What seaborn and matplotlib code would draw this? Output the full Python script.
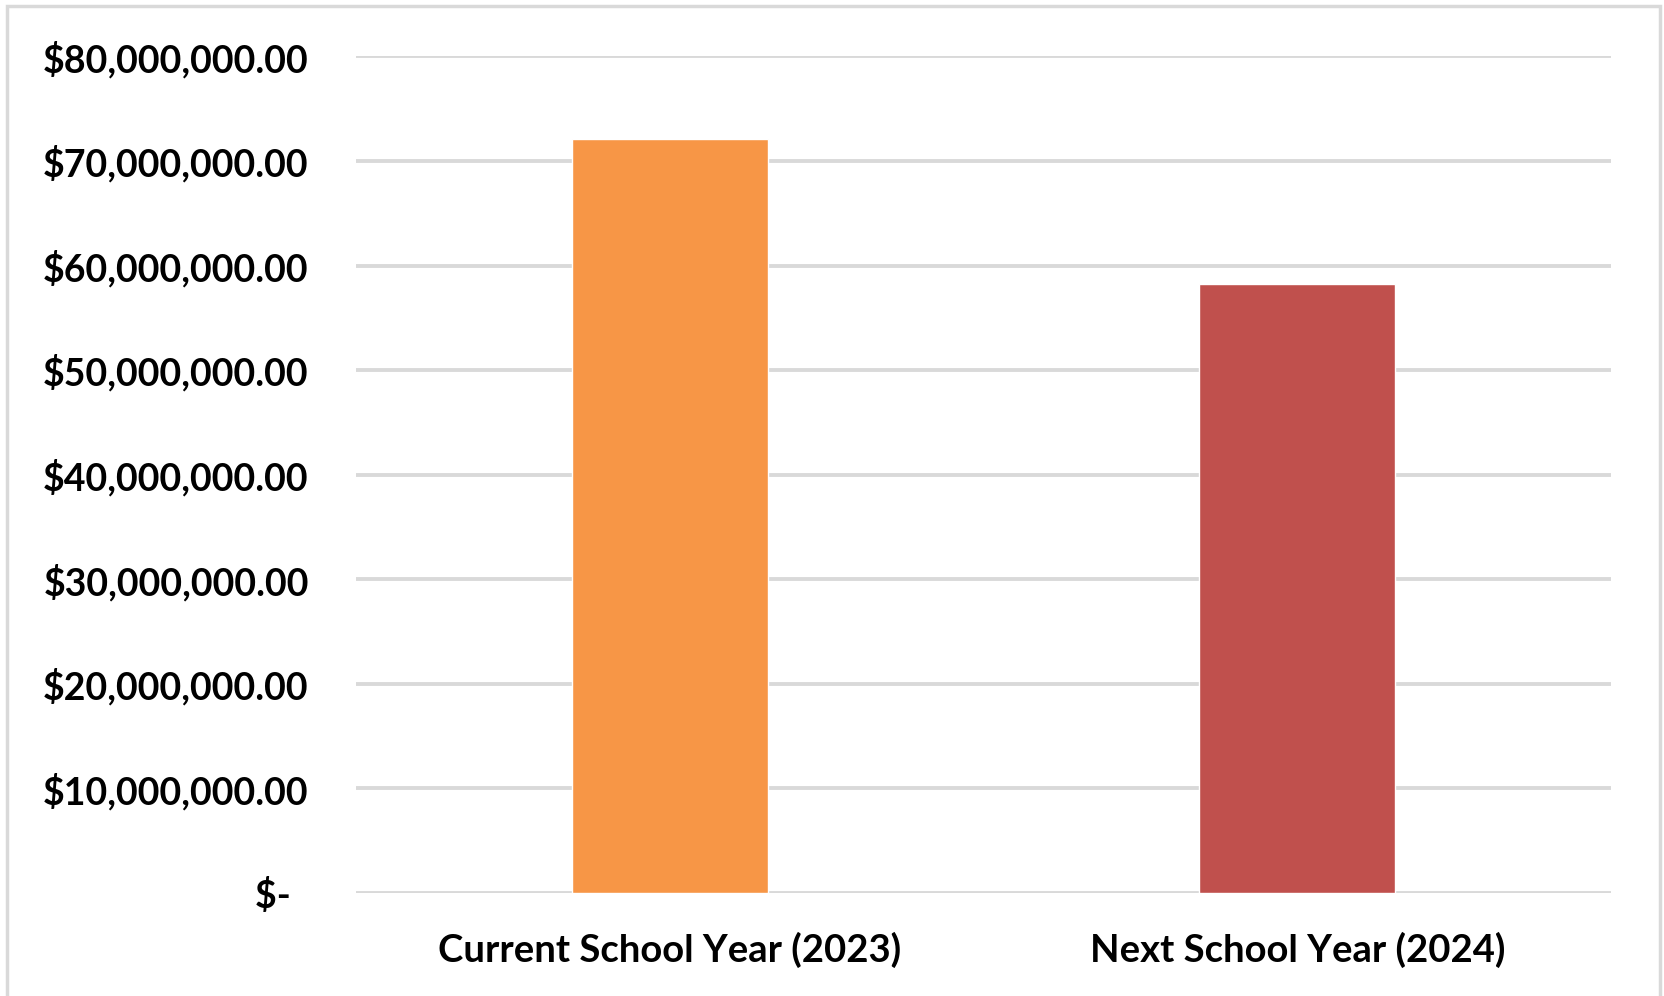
import matplotlib
matplotlib.use("Agg")
import matplotlib.pyplot as plt
from matplotlib.patches import Rectangle
import seaborn as sns

# Budget by school year
categories = ["Current School Year (2023)", "Next School Year (2024)"]
budget = [72_100_000, 58_200_000]
bar_colors = ["#F79646", "#C0504D"]

y_ticks = [0, 10_000_000, 20_000_000, 30_000_000, 40_000_000,
           50_000_000, 60_000_000, 70_000_000, 80_000_000]
y_tick_labels = ["$-  ", "$10,000,000.00", "$20,000,000.00", "$30,000,000.00",
                 "$40,000,000.00", "$50,000,000.00", "$60,000,000.00",
                 "$70,000,000.00", "$80,000,000.00"]

sns.set_theme(style="white")
plt.rcParams["font.family"] = ["Lato", "DejaVu Sans"]

W, H = 1664, 996
fig = plt.figure(figsize=(W / 100, H / 100), dpi=100)
fig.patch.set_facecolor("white")
ax = fig.add_axes([356 / W, 1 - 893 / H, (1611 - 356) / W, (893 - 56.5) / H])

sns.barplot(x=categories, y=budget, hue=categories, palette=bar_colors,
            legend=False, width=0.313, saturation=1, ax=ax, zorder=3)

ax.set_ylim(0, 80_000_000)
ax.set_xlim(-0.5, 1.5)
ax.set_yticks(y_ticks)
ax.set_yticklabels(y_tick_labels, fontsize=27, fontweight="bold", color="#000000")
ax.tick_params(axis="y", length=0, pad=34)
ax.tick_params(axis="x", length=0, pad=28)
for lbl in ax.get_xticklabels():
    lbl.set_fontsize(27.5)
    lbl.set_fontweight("bold")
    lbl.set_color("#000000")

ax.yaxis.grid(True, color="#D9D9D9", linewidth=2.8, zorder=0)
ax.set_axisbelow(True)
for s in ax.spines.values():
    s.set_visible(False)
ax.set_xlabel("")
ax.set_ylabel("")

# Light grey chart-area frame
fig.patches.append(Rectangle((7 / W, -0.05), (1660 - 7) / W, 1.05 - 6 / H,
                             transform=fig.transFigure, fill=False,
                             edgecolor="#D9D9D9", linewidth=2.5))

fig.savefig("out.png", dpi=100)
